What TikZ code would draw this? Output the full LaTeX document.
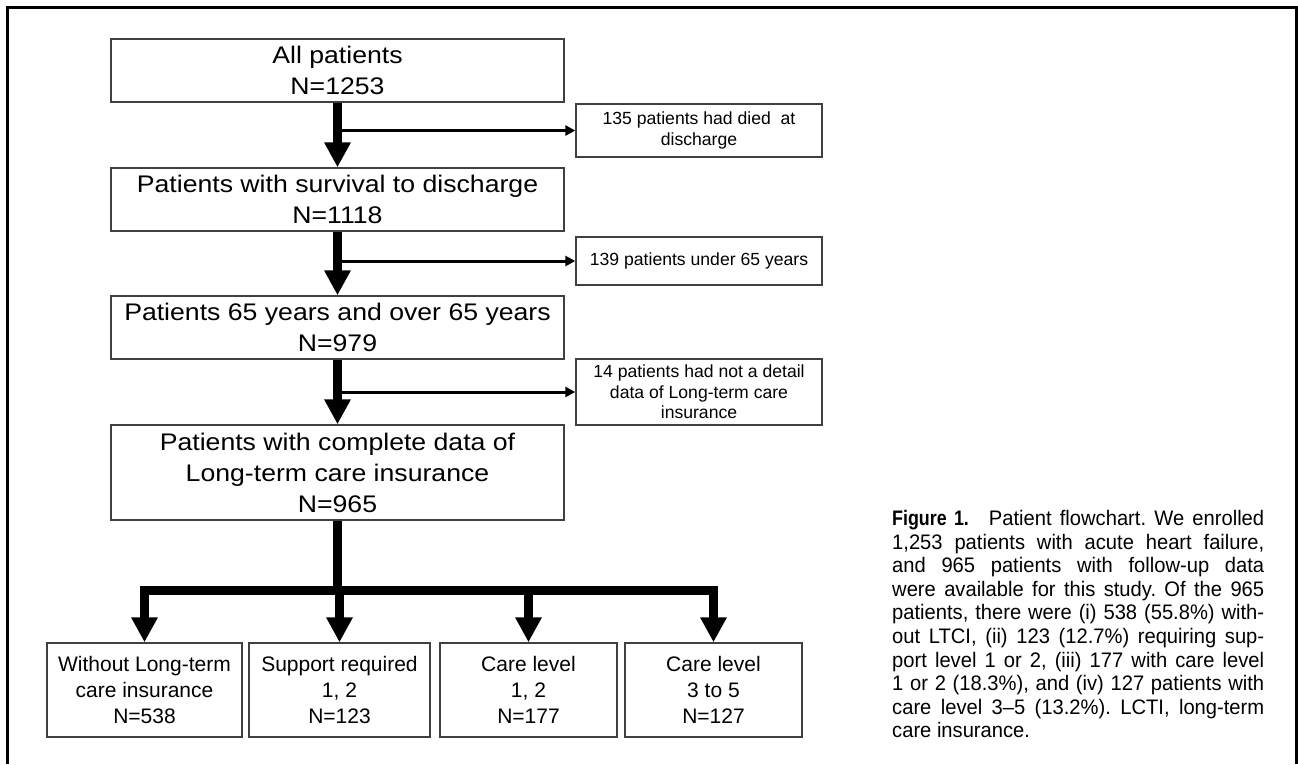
\documentclass[tikz,border=0pt]{standalone}
\usepackage{fontspec}
\usepackage{tikz}
\usetikzlibrary{arrows.meta}
\setmainfont{Liberation Sans}
\newfontfamily\widefont[FakeStretch=1.11]{Liberation Sans}
\newfontfamily\capfont[FakeStretch=0.96]{Liberation Sans}
\newfontfamily\capbold[FakeStretch=0.85]{Liberation Sans}

\begin{document}
\begin{tikzpicture}[x=1pt,y=-1pt,
    mainbox/.style={rectangle, draw=black!75, line width=1.4pt, fill=white, minimum width=453pt, minimum height=63pt, inner sep=0pt, align=center, font=\widefont\fontsize{24}{31}\selectfont},
    sidebox/.style={rectangle, draw=black!75, line width=1.4pt, fill=white, minimum width=246pt, inner sep=0pt, align=center, font=\fontsize{17.6}{20.5}\selectfont},
    endbox/.style={rectangle, draw=black!75, line width=1.4pt, fill=white, minimum height=94pt, inner sep=0pt, align=center, font=\fontsize{21}{26}\selectfont}]
            \useasboundingbox (0,0) rectangle (1298,764);
            \draw[line width=3pt] (7,764) |- (1296,7) -- (1296,764);

            \node[mainbox] (A) at (337.5,70.5) {All patients\\N=1253};
            \node[mainbox] (B) at (337.5,199.5) {Patients with survival to discharge\\N=1118};
            \node[mainbox] (C) at (337.5,327.5) {Patients 65 years and over 65 years\\N=979};
            \node[mainbox, minimum height=95pt] (D) at (337.5,472.5) {Patients with complete data of\\Long-term care insurance\\N=965};
            \node[sidebox, minimum height=53pt] (S1) at (699,130.5) {135 patients had died\ \ at\\discharge};
            \node[sidebox, minimum height=48pt] (S2) at (699,261) {139 patients under 65 years};
            \node[sidebox, minimum height=66pt] (S3) at (699,392) {14 patients had not a detail\\data of Long-term care\\insurance};
            \node[endbox, minimum width=195pt] (E) at (144.5,690) {Without Long-term\\care insurance\\N=538};
            \node[endbox, minimum width=181pt] (F) at (339.5,690) {Support required\\1, 2\\N=123};
            \node[endbox, minimum width=177pt] (G) at (528.5,690) {Care level\\1, 2\\N=177};
            \node[endbox, minimum width=177pt] (H) at (713.5,690) {Care level\\3 to 5\\N=127};
            \coordinate (M) at (337.5,590);

            \node[anchor=north west, inner sep=0pt, text width=372pt, align=justify, font=\capfont\fontsize{21}{23.6}\selectfont] (cap) at (892,510)
              {\hyphenpenalty=10000 \frenchspacing {\capbold\bfseries Figure 1.}\hspace{20pt}Patient flowchart. We enrolled\linebreak
               1,253 patients with acute heart failure,\linebreak
               and 965 patients with follow-up data\linebreak
               were available for this study. Of the 965\linebreak
               patients, there were (i) 538 (55.8\%) with-\linebreak
               out LTCI, (ii) 123 (12.7\%) requiring sup-\linebreak
               port level 1 or 2, (iii) 177 with care level\linebreak
               1 or 2 (18.3\%), and (iv) 127 patients with\linebreak
               care level 3–5 (13.2\%). LCTI, long-term\linebreak
               care insurance.};

            \tikzset{mainarrow/.style={-{Triangle[width=25pt,length=25pt]}, line width=9pt, line join=miter}}
            \tikzset{sidearrow/.style={-{Triangle[width=10pt,length=10pt]}, line width=3pt}}

            \draw[mainarrow] (A) -- (B);
            \draw[mainarrow] (B) -- (C);
            \draw[mainarrow] (C) -- (D);
            \draw[sidearrow] (A.south |- S1.west) -- (S1);
            \draw[sidearrow] (B.south |- S2.west) -- (S2);
            \draw[sidearrow] (C.south |- S3.west) -- (S3);
            \draw[line width=9pt] (D) -- (M);
            \draw[mainarrow] (M) -| (E);
            \draw[mainarrow] (F.north |- M) -- (F);
            \draw[mainarrow] (M) -| (G);
            \draw[mainarrow] (M) -| (H);

        \end{tikzpicture}
\end{document}
